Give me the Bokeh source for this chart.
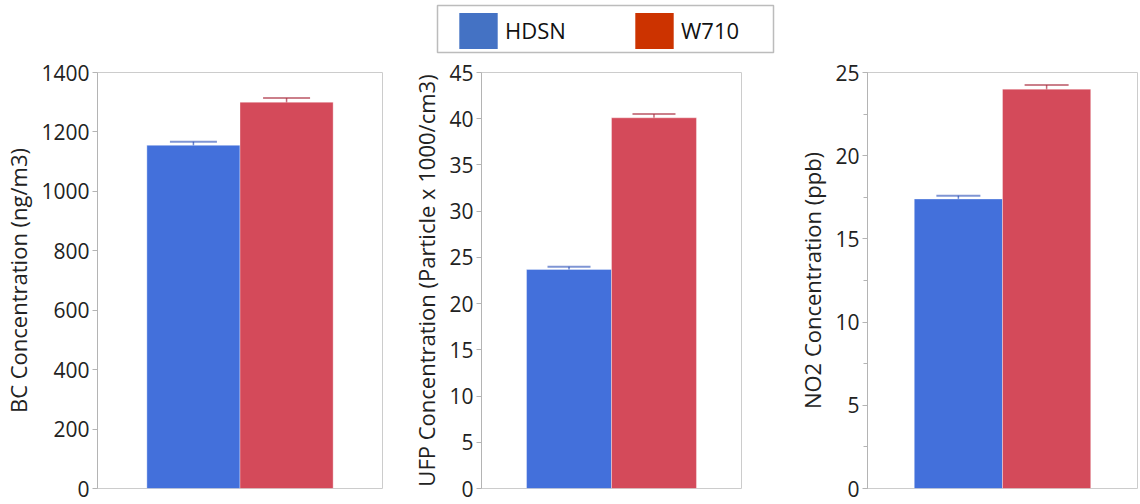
from bokeh.plotting import figure
from bokeh.models import (FactorRange, Range1d, SingleIntervalTicker, Whisker, TeeHead,
                          ColumnDataSource, Legend, LegendItem, BoxAnnotation)
from bokeh.layouts import column, row
from bokeh.embed import file_html
from bokeh.resources import INLINE

# ---- data ----
sites = ["HDSN", "W710"]
bc_mean = [1155, 1300]
bc_err = [12, 14]
ufp_mean = [23.7, 40.1]
ufp_err = [0.3, 0.4]
no2_mean = [17.4, 24.0]
no2_err = [0.2, 0.25]
bc_label = "BC Concentration (ng/m3)"
ufp_label = "UFP Concentration (Particle x 1000/cm3)"
no2_label = "NO2 Concentration (ppb)"

bar_colors = ["#4370DB", "#D44A5A"]
err_colors = ["#2a4fb8", "#a82a3c"]
legend_colors = ["#4472C4", "#CC3300"]

FONT = "Open Sans"
LEG_H = 56
PANEL_H = 446


def make_panel(label, means, errs, ymax, interval, minor, width, bl, br, cap):
    p = figure(x_range=FactorRange(factors=sites, range_padding=0.53,
                                   range_padding_units="absolute"),
               y_range=Range1d(0, ymax), width=width, height=PANEL_H,
               output_backend="svg", toolbar_location=None,
               x_axis_location=None,
               min_border_left=bl, min_border_right=br,
               min_border_top=16, min_border_bottom=14)
    src = ColumnDataSource(dict(site=sites, mean=means, color=bar_colors))
    p.vbar(x="site", top="mean", width=1.0, source=src, fill_color="color",
           line_color="white", line_alpha=0.35, line_width=1)
    for s, m, e, c in zip(sites, means, errs, err_colors):
        es = ColumnDataSource(dict(site=[s], upper=[m + e], lower=[m - e]))
        w = Whisker(base="site", upper="upper", lower="lower", source=es,
                    line_color=c, line_alpha=0.7, line_width=1.5,
                    upper_head=TeeHead(size=cap, line_color=c, line_alpha=0.6, line_width=2),
                    lower_head=TeeHead(size=cap, line_color=c, line_alpha=0.75, line_width=2))
        p.add_layout(w)
    ax = p.yaxis[0]
    ax.ticker = SingleIntervalTicker(interval=interval, num_minor_ticks=minor)
    ax.axis_label = label
    ax.axis_label_text_font = FONT
    ax.axis_label_text_font_size = "22px"
    ax.axis_label_text_font_style = "normal"
    ax.axis_label_text_color = "#222222"
    ax.axis_label_standoff = 5
    ax.major_label_text_font = FONT
    ax.major_label_text_font_size = "21px"
    ax.major_label_text_color = "#222222"
    ax.major_label_standoff = 3
    ax.axis_line_color = "#b4b4b4"
    ax.major_tick_line_color = "#b4b4b4"
    ax.minor_tick_line_color = "#b4b4b4"
    ax.major_tick_out = 5
    ax.major_tick_in = 0
    ax.minor_tick_out = 4
    ax.minor_tick_in = 0
    p.grid.visible = False
    p.outline_line_color = "#cccccc"
    p.outline_line_width = 1
    return p


p1 = make_panel(bc_label, bc_mean, bc_err, 1400, 200, 0, 400, 93, 18, 47)
p2 = make_panel(ufp_label, ufp_mean, ufp_err, 45, 5, 0, 390, 81, 49, 43)
p3 = make_panel(no2_label, no2_mean, no2_err, 25, 5, 2, 348, 77, 1, 44)

# ---- legend strip ----
leg = figure(width=1138, height=LEG_H, x_range=Range1d(0, 1138), y_range=Range1d(0, LEG_H),
             output_backend="svg", toolbar_location=None,
             x_axis_location=None, y_axis_location=None,
             min_border_left=0, min_border_right=0, min_border_top=0, min_border_bottom=0,
             outline_line_color=None)
leg.grid.visible = False
items = []
for s, c in zip(sites, legend_colors):
    r = leg.vbar(x=[0], top=[0], width=0, fill_color=c, line_color=None)
    items.append(LegendItem(label=s, renderers=[r]))
legend = Legend(items=items, location=(454, 3.5), orientation="horizontal",
                padding=0, spacing=55, glyph_width=48, glyph_height=45,
                label_standoff=3, label_width=70,
                label_text_font=FONT, label_text_font_size="22px",
                label_text_color="#111111",
                border_line_color=None, background_fill_alpha=0)
leg.add_layout(legend)
leg.add_layout(BoxAnnotation(left=437, right=773, top=51, bottom=4,
                             fill_alpha=0, line_color="#222222", line_width=1.5))

layout = column(leg, row(p1, p2, p3))
open("out.html", "w").write(file_html(layout, INLINE))
